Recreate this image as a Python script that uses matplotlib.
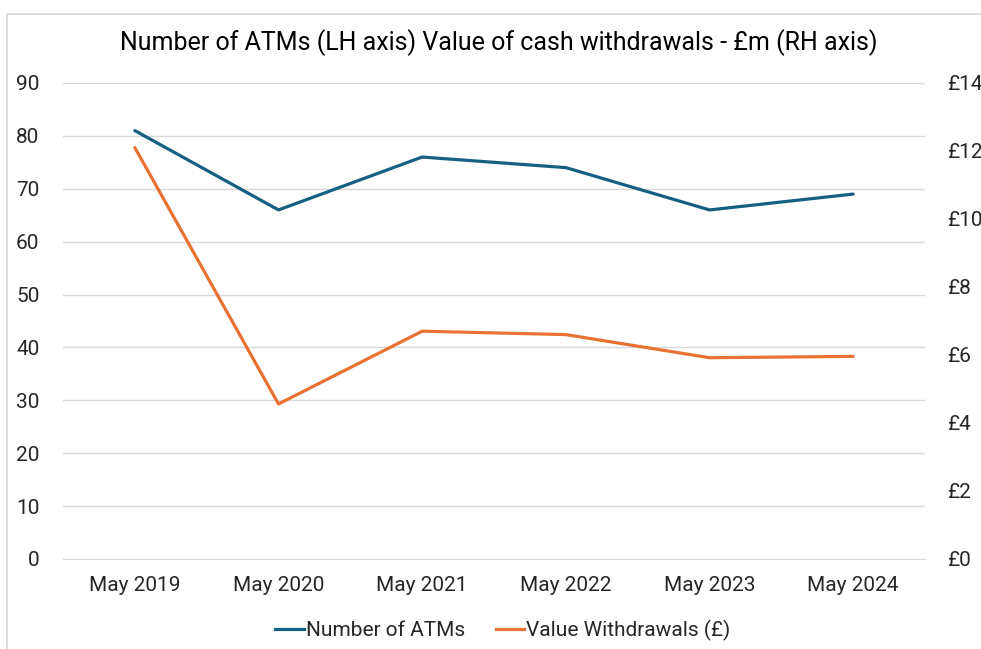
import matplotlib
matplotlib.use("Agg")
import matplotlib.pyplot as plt
from matplotlib.patches import Rectangle
from matplotlib.lines import Line2D
from matplotlib import font_manager

# data
categories = ["May 2019", "May 2020", "May 2021", "May 2022", "May 2023", "May 2024"]
atms = [81, 66, 76, 74, 66, 69]
withdrawals = [12.1, 4.56, 6.7, 6.6, 5.92, 5.96]
left_ticks = [0, 10, 20, 30, 40, 50, 60, 70, 80, 90]
right_ticks = [0, 2, 4, 6, 8, 10, 12, 14]

BLUE = "#156082"
ORANGE = "#E97132"
GRID = "#d9d9d9"
TEXT = "#262626"

names = {f.name for f in font_manager.fontManager.ttflist}
body_font = "Roboto" if "Roboto" in names else "DejaVu Sans"
title_font = "Liberation Sans Narrow" if "Liberation Sans Narrow" in names else body_font

W, H = 981, 649
fig = plt.figure(figsize=(W / 100, H / 100), dpi=100)

# chart border (cut off on the right and bottom in the reference)
fig.patches.append(Rectangle((7 / W, -0.1), 1.2, 1 - 14 / H + 0.1, transform=fig.transFigure,
                             fill=False, edgecolor=GRID, linewidth=1.2))

ax = fig.add_axes([63 / W, 1 - 559 / H, (925 - 63) / W, (559 - 83) / H])
ax2 = ax.twinx()

x = range(len(categories))
ax.plot(x, atms, color=BLUE, lw=2.3, solid_capstyle="round")
ax2.plot(x, withdrawals, color=ORANGE, lw=2.3, solid_capstyle="round")

ax.set_xlim(-0.5, len(categories) - 0.5)
ax.set_ylim(0, 90)
ax2.set_ylim(0, 14)
ax.set_xticks(list(x))
ax.set_xticklabels(categories)
ax.set_yticks(left_ticks)
ax2.set_yticks(right_ticks)
ax2.set_yticklabels(["£%d" % v for v in right_ticks])

ax.grid(axis="y", color=GRID, lw=1)
ax.set_axisbelow(True)
for a in (ax, ax2):
    for s in a.spines.values():
        s.set_visible(False)
ax.spines["bottom"].set_visible(True)
ax.spines["bottom"].set_color(GRID)

ax.tick_params(axis="x", length=0, pad=12, labelsize=15, labelcolor=TEXT)
ax.tick_params(axis="y", length=0, pad=17, labelsize=15, labelcolor=TEXT)
ax2.tick_params(axis="y", length=0, pad=16, labelsize=15, labelcolor=TEXT)
for lbl in ax.get_xticklabels() + ax.get_yticklabels() + ax2.get_yticklabels():
    lbl.set_fontfamily(body_font)

fig.text(499 / W, 1 - 43 / H, "Number of ATMs (LH axis) Value of cash withdrawals - £m (RH axis)",
         ha="center", va="center", fontsize=18, color="#000000", family=title_font)

handles = [Line2D([], [], color=BLUE, lw=2.3), Line2D([], [], color=ORANGE, lw=2.3)]
fig.legend(handles, ["Number of ATMs", "Value Withdrawals (£)"], loc="center",
           bbox_to_anchor=(503 / W, 1 - 630 / H), ncol=2, frameon=False,
           handlelength=1.35, handletextpad=0.1, columnspacing=1.5,
           prop={"family": body_font, "size": 15}, labelcolor=TEXT)

fig.savefig("out.png", dpi=100)
